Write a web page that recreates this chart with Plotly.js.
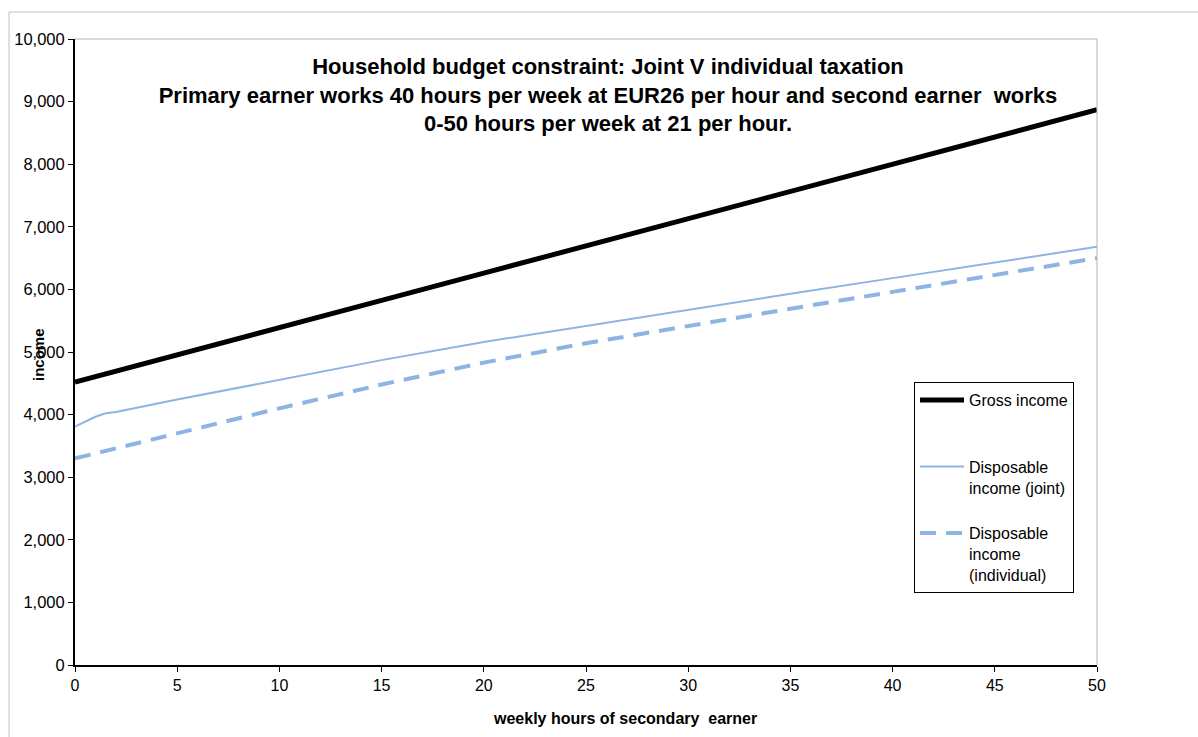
<!DOCTYPE html>
<html>
<head>
<meta charset="utf-8">
<script src="https://cdn.plot.ly/plotly-3.0.1.min.js"></script>
<style>
  html, body { margin: 0; padding: 0; background: #ffffff; }
  #chart { width: 1198px; height: 737px; }
</style>
</head>
<body>
<div id="chart"></div>
<script>
// Weekly hours worked by the secondary earner
const hours = [0, 0.5, 1, 1.5, 2, 5, 10, 15, 20, 25, 30, 35, 40, 45, 50];

// Household gross income
const grossIncome = [4520, 4564, 4607, 4651, 4694, 4955, 5390, 5825, 6260, 6695, 7130, 7565, 8000, 8435, 8870];

// Disposable income under joint taxation
const disposableJoint = [3810, 3890, 3965, 4020, 4040, 4240, 4560, 4870, 5160, 5420, 5680, 5930, 6180, 6430, 6680];

// Disposable income under individual taxation
const disposableIndividual = [3300, 3340, 3380, 3420, 3460, 3700, 4100, 4480, 4830, 5140, 5420, 5690, 5960, 6230, 6500];

// legend labels (the first one carries an empty second line for spacing)
const seriesNames = ['Gross income<br>&nbsp;', 'Disposable<br>income (joint)', 'Disposable<br>income<br>(individual)'];

const yTicks = [0, 1000, 2000, 3000, 4000, 5000, 6000, 7000, 8000, 9000, 10000];
const xTicks = [0, 5, 10, 15, 20, 25, 30, 35, 40, 45, 50];

const chartTitle = 'Household budget constraint: Joint V individual taxation<br>' +
  'Primary earner works 40 hours per week at EUR26 per hour and second earner  works<br>' +
  '0-50 hours per week at 21 per hour.';
const xTitle = 'weekly hours of secondary  earner';
const yTitle = 'income';

const blue = '#8db4e2';
const font = 'Liberation Sans, Arial, sans-serif';

const traces = [
  {
    x: hours, y: grossIncome, name: seriesNames[0], legendgroup: 'g1',
    type: 'scatter', mode: 'lines',
    line: { color: '#000000', width: 5 }
  },
  {
    x: hours, y: disposableJoint, name: seriesNames[1], legendgroup: 'g2',
    type: 'scatter', mode: 'lines',
    line: { color: blue, width: 2 }
  },
  {
    x: hours, y: disposableIndividual, name: seriesNames[2], legendgroup: 'g3',
    type: 'scatter', mode: 'lines',
    line: { color: blue, width: 4, dash: '16px,10px' }
  }
];

// plot area in pixels: left 75, right 1097, top 39, bottom 665
const L = 75, R = 1097, T = 39, B = 665;
const px = v => (v - L) / (R - L);
const py = v => (B - v) / (B - T);

const layout = {
  width: 1198, height: 737,
  margin: { l: L, r: 1198 - R, t: T, b: 737 - B, pad: 0 },
  paper_bgcolor: '#ffffff', plot_bgcolor: '#ffffff',
  font: { family: font, color: '#000000', size: 16 },
  showlegend: true,
  title: {
    text: chartTitle,
    font: { family: font, size: 22, color: '#000000', weight: 'bold' },
    x: 608 / 1198, xanchor: 'center',
    y: 1 - 74 / 737, yanchor: 'top'
  },
  xaxis: {
    range: [0, 50], tickvals: xTicks, ticktext: xTicks.map(String),
    showgrid: false, zeroline: false,
    showline: true, linecolor: '#000000', linewidth: 2,
    ticks: 'outside', ticklen: 5, tickwidth: 1, tickcolor: '#000000',
    tickfont: { family: font, size: 16 },
    fixedrange: true
  },
  yaxis: {
    range: [0, 10000], tickvals: yTicks, tickformat: ',d',
    showgrid: false, zeroline: false,
    showline: true, linecolor: '#000000', linewidth: 2,
    ticks: 'outside', ticklen: 5, tickwidth: 1, tickcolor: '#000000',
    tickfont: { family: font, size: 16.5 },
    fixedrange: true
  },
  legend: {
    x: px(914), y: py(382), xanchor: 'left', yanchor: 'top',
    bgcolor: '#ffffff', bordercolor: '#000000', borderwidth: 1,
    font: { family: font, size: 16 },
    valign: 'top', tracegroupgap: 22, itemwidth: 44
  },
  annotations: [
    {
      text: yTitle, xref: 'paper', yref: 'paper',
      x: px(38), y: py(355), xanchor: 'center', yanchor: 'middle',
      textangle: -90, showarrow: false,
      font: { family: font, size: 15, weight: 'bold' }
    },
    {
      text: xTitle, xref: 'paper', yref: 'paper',
      x: px(625), y: py(718), xanchor: 'center', yanchor: 'middle',
      showarrow: false,
      font: { family: font, size: 16, weight: 'bold' }
    }
  ],
  shapes: [
    // outer frame of the chart
    { type: 'rect', xref: 'paper', yref: 'paper', layer: 'below',
      x0: px(9), x1: px(1260), y0: py(800), y1: py(12),
      line: { color: '#c0c0c0', width: 1 }, fillcolor: 'rgba(0,0,0,0)' },
    // top and right edges of the plot area
    { type: 'line', xref: 'paper', yref: 'paper', x0: 0, x1: 1, y0: 1, y1: 1,
      line: { color: '#b4b4b4', width: 1 } },
    { type: 'line', xref: 'paper', yref: 'paper', x0: 1, x1: 1, y0: 0, y1: 1,
      line: { color: '#b4b4b4', width: 1 } }
  ]
};

Plotly.newPlot('chart', traces, layout, { displayModeBar: false, staticPlot: true });
</script>
</body>
</html>
